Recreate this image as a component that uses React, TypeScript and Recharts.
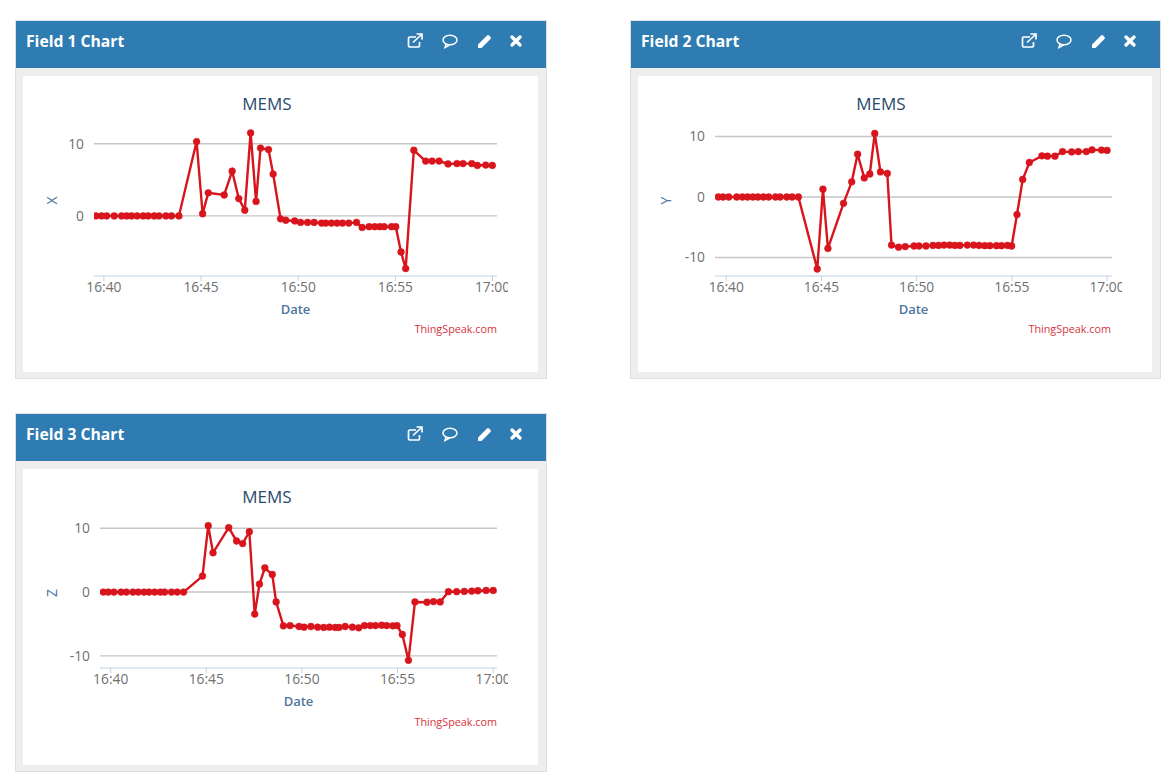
import { CartesianGrid, Line, LineChart, XAxis, YAxis } from "recharts";

const tickMinutes = [0, 5, 10, 15, 20];
const tickLabels = ["16:40", "16:45", "16:50", "16:55", "17:00"];

// minutes after 16:40
const timesX = [
  -0.41, -0.12, 0.14, 0.53, 0.91, 1.17, 1.42, 1.71, 2.02, 2.28, 2.59, 2.84, 3.19, 3.48, 3.86,
  4.77, 5.08, 5.37, 6.19, 6.6, 6.94, 7.25, 7.55, 7.83, 8.06, 8.47, 8.71, 9.09, 9.36, 9.82,
  10.12, 10.48, 10.82, 11.2, 11.42, 11.71, 12.0, 12.28, 12.6, 13.0, 13.29, 13.65, 13.94, 14.2,
  14.42, 14.8, 15.02, 15.29, 15.53, 15.95, 16.56, 16.89, 17.25, 17.71, 18.17, 18.48, 18.93,
  19.22, 19.65, 19.99,
];
const valuesX = [
  0, 0, 0, 0, 0, 0, 0, 0, 0, 0, 0, 0, 0, 0, 0,
  10.3, 0.3, 3.2, 2.9, 6.2, 2.4, 0.8, 11.5, 2, 9.4, 9.2, 5.8, -0.4, -0.6, -0.7,
  -0.9, -0.9, -0.9, -1, -1, -1, -1, -1, -1, -0.9, -1.6, -1.5, -1.5, -1.5,
  -1.5, -1.5, -1.5, -5, -7.3, 9.1, 7.6, 7.6, 7.6, 7.2, 7.25, 7.25, 7.25,
  7, 7.05, 7,
];

const timesY = [
  -0.42, -0.17, 0.13, 0.55, 0.85, 1.12, 1.4, 1.66, 1.95, 2.23, 2.59, 2.83, 3.18, 3.46, 3.79,
  4.78, 5.08, 5.34, 6.16, 6.59, 6.9, 7.25, 7.54, 7.8, 8.1, 8.46, 8.68, 9.05, 9.4, 9.86,
  10.12, 10.49, 10.86, 11.15, 11.44, 11.74, 12.01, 12.27, 12.66, 12.99, 13.28, 13.58, 13.85,
  14.19, 14.46, 14.77, 14.99, 15.27, 15.57, 15.92, 16.58, 16.87, 17.26, 17.66, 18.14, 18.49,
  18.91, 19.21, 19.71, 20.0,
];
const valuesY = [
  0, 0, 0, 0, 0, 0, 0, 0, 0, 0, 0, 0, 0, 0, 0,
  -11.9, 1.3, -8.5, -1.05, 2.5, 7.07, 3.15, 3.8, 10.5, 4.15, 3.9, -7.95, -8.3, -8.2, -8.1,
  -8.1, -8.1, -8, -8, -7.95, -7.95, -8, -8, -7.95, -7.95, -8, -8.05, -8.05,
  -8.05, -8.05, -8, -8.1, -2.9, 2.9, 5.7, 6.8, 6.75, 6.75, 7.5, 7.45, 7.5,
  7.5, 7.8, 7.75, 7.7,
];

const timesZ = [
  -0.39, -0.13, 0.17, 0.54, 0.82, 1.16, 1.44, 1.74, 2.0, 2.3, 2.6, 2.82, 3.18, 3.48, 3.81,
  4.8, 5.1, 5.35, 6.17, 6.58, 6.9, 7.25, 7.53, 7.78, 8.06, 8.45, 8.65, 9.03, 9.38, 9.85,
  10.11, 10.47, 10.82, 11.14, 11.44, 11.74, 11.94, 12.26, 12.64, 12.97, 13.27, 13.57, 13.85,
  14.17, 14.43, 14.75, 14.97, 15.25, 15.57, 15.91, 16.54, 16.88, 17.23, 17.66, 18.09, 18.49,
  18.88, 19.2, 19.63, 20.0,
];
const valuesZ = [
  0, 0, 0, 0, 0, 0, 0, 0, 0, 0, 0, 0, 0, 0, 0,
  2.5, 10.4, 6.15, 10.1, 8, 7.6, 9.45, -3.45, 1.25, 3.8, 2.75, -1.55, -5.3, -5.25, -5.4,
  -5.5, -5.4, -5.5, -5.55, -5.5, -5.55, -5.55, -5.4, -5.5, -5.6, -5.25, -5.25, -5.25,
  -5.2, -5.25, -5.3, -5.25, -6.65, -10.7, -1.55, -1.6, -1.5, -1.55, 0.05, 0.05, 0.1,
  0.15, 0.2, 0.25, 0.25,
];

const RED = "#d8141c";
const FONT = "'Open Sans', sans-serif";

function HeaderIcons() {
  return (
    <svg width={130} height={24} style={{ position: "absolute", right: 17, top: 9 }} fill="none">
      {/* open in new */}
      <g transform="translate(8,3)" stroke="#fff" strokeWidth={1.7}>
        <path d="M9 4H3a1.5 1.5 0 0 0-1.5 1.5v7A1.5 1.5 0 0 0 3 14h8a1.5 1.5 0 0 0 1.5-1.5V9" />
        <path d="M6 9.5 14 2M9.5 1h5.5v5.5" />
      </g>
      {/* comment */}
      <g transform="translate(43,3)" stroke="#fff" strokeWidth={1.5}>
        <ellipse cx={8} cy={7} rx={7} ry={4.8} />
        <path d="M4 11 3 14.5 7.5 12" />
      </g>
      {/* pencil */}
      <path
        transform="translate(78,3)"
        d="M1 11.5 10 2.5a1.5 1.5 0 0 1 2 0l1.5 1.5a1.5 1.5 0 0 1 0 2L4.5 15H1z"
        fill="#fff"
      />
      {/* close */}
      <path
        transform="translate(111,5)"
        d="M2 2 10 10M10 2 2 10"
        stroke="#fff"
        strokeWidth={3.4}
        strokeLinecap="round"
      />
    </svg>
  );
}

interface PanelProps {
  left: number;
  top: number;
  width: number;
  height: number;
  heading: string;
  axisName: string;
  times: number[];
  values: number[];
  xDomain: [number, number];
  yDomain: [number, number];
  yTicks: number[];
  yAxisWidth: number;
  plotBottom: number;
  labelShift: number;
  titleCenter: number;
  chartW: number;
  rightGap: number;
}

function FieldPanel(p: PanelProps) {
  const rows = p.times.map((time, i) => ({ time, value: p.values[i] }));
  const chartH = p.height - 55 - 6;
  return (
    <div
      style={{
        position: "absolute",
        left: p.left,
        top: p.top,
        width: p.width,
        height: p.height,
        background: "#eeeeee",
        boxShadow: "0 0 0 1px #e0e0e0",
        fontFamily: FONT,
      }}
    >
      <div
        style={{
          position: "relative",
          height: 47,
          background: "#2e7cb2",
          color: "#fff",
          fontWeight: 700,
          fontSize: 15.7,
          lineHeight: "41px",
          paddingLeft: 10,
        }}
      >
        {p.heading}
        <HeaderIcons />
      </div>
      <div
        style={{
          position: "absolute",
          left: 7,
          top: 55,
          width: p.width - 15,
          height: chartH,
          background: "#fff",
        }}
      >
        <div
          style={{
            position: "absolute",
            left: p.titleCenter - 60,
            top: 16,
            width: 120,
            textAlign: "center",
            fontSize: 17,
            color: "#274b6d",
          }}
        >
          MEMS
        </div>
        <div
          style={{
            position: "absolute",
            right: 41,
            top: 245,
            fontSize: 10.8,
            color: "#d8323c",
          }}
        >
          ThingSpeak.com
        </div>
        <div style={{ position: "absolute", left: 0, top: 0 }}>
          <LineChart
            width={p.chartW}
            height={chartH}
            data={rows}
            margin={{ top: 49, right: p.rightGap, bottom: 0, left: 0 }}
          >
            <CartesianGrid
              vertical={false}
              horizontalValues={p.yTicks}
              stroke="#c6c6c6"
              strokeWidth={1.4}
            />
            <XAxis
              dataKey="time"
              type="number"
              domain={p.xDomain}
              allowDataOverflow
              ticks={tickMinutes}
              interval={0}
              tickFormatter={(v: number) => tickLabels[tickMinutes.indexOf(v)]}
              height={chartH - p.plotBottom}
              stroke="#c0d0e0"
              tickSize={5}
              tickMargin={1}
              tick={{ fill: "#707070", fontSize: 13.8, fontFamily: FONT }}
              label={{
                value: "Date",
                position: "insideTop",
                offset: 29,
                fill: "#4d759e",
                fontSize: 13,
                fontWeight: 600,
                fontFamily: FONT,
              }}
            />
            <YAxis
              type="number"
              domain={p.yDomain}
              allowDataOverflow
              ticks={p.yTicks}
              interval={0}
              width={p.yAxisWidth}
              axisLine={false}
              tickLine={false}
              tickSize={0}
              tickMargin={10}
              tick={{ fill: "#707070", fontSize: 13.8, fontFamily: FONT }}
              label={{
                value: p.axisName,
                angle: -90,
                position: "center",
                dx: p.labelShift,
                fill: "#4d759e",
                fontSize: 14,
                fontFamily: FONT,
              }}
            />
            <Line
              dataKey="value"
              type="linear"
              stroke={RED}
              strokeWidth={2.4}
              dot={{ r: 3.4, fill: RED, stroke: RED, strokeWidth: 0.5 }}
              activeDot={false}
              isAnimationActive={false}
            />
          </LineChart>
        </div>
      </div>
    </div>
  );
}

export default function App() {
  return (
    <div style={{ position: "absolute", left: 0, top: 0, width: 1170, height: 778, background: "#fff", overflow: "hidden" }}>
      <FieldPanel
        left={16}
        top={21}
        width={530}
        height={357}
        heading="Field 1 Chart"
        axisName="X"
        times={timesX}
        values={valuesX}
        xDomain={[-0.51, 20.23]}
        yDomain={[-8.33, 12.6]}
        yTicks={[0, 10]}
        yAxisWidth={71}
        plotBottom={200}
        labelShift={-6.5}
        titleCenter={244}
        chartW={485}
        rightGap={11}
      />
      <FieldPanel
        left={631}
        top={21}
        width={529}
        height={357}
        heading="Field 2 Chart"
        axisName="Y"
        times={timesY}
        values={valuesY}
        xDomain={[-0.59, 20.26]}
        yDomain={[-13.06, 11.9]}
        yTicks={[-10, 0, 10]}
        yAxisWidth={77}
        plotBottom={200}
        labelShift={-10.5}
        titleCenter={243}
        chartW={484}
        rightGap={10}
      />
      <FieldPanel
        left={16}
        top={414}
        width={530}
        height={357}
        heading="Field 3 Chart"
        axisName="Z"
        times={timesZ}
        values={valuesZ}
        xDomain={[-0.56, 20.2]}
        yDomain={[-11.9, 11.6]}
        yTicks={[-10, 0, 10]}
        yAxisWidth={77}
        plotBottom={199}
        labelShift={-9.5}
        titleCenter={244}
        chartW={485}
        rightGap={11}
      />
    </div>
  );
}
